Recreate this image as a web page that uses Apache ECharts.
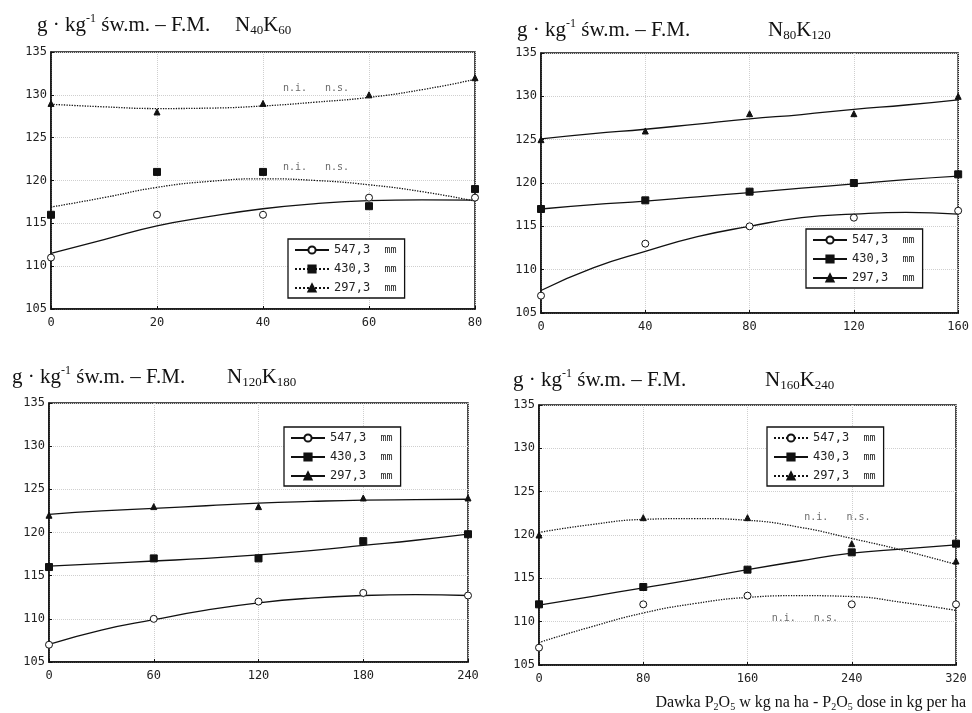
<!DOCTYPE html>
<html><head><meta charset="utf-8">
<script src="https://cdn.jsdelivr.net/npm/echarts@6/dist/echarts.min.js"></script>
<style>html,body{margin:0;padding:0;background:#fff}#c{width:972px;height:713px}</style>
</head><body><div id="c"></div>
<script>
// ---------- data ----------
const panelNames = [['40','60'],['80','120'],['120','180'],['160','240']];
const xTicks = [[0,20,40,60,80],[0,40,80,120,160],[0,60,120,180,240],[0,80,160,240,320]];
const rainLabels = ['547,3','430,3','297,3'];
const unitLabel = 'mm';
// observed means
const obs547 = [[111,116,116,118,118],[107,113,115,116,116.8],[107,110,112,113,112.7],[107,112,113,112,112]];
const obs430 = [[116,121,121,117,119],[117,118,119,120,121],[116,117,117,119,119.8],[112,114,116,118,119]];
const obs297 = [[129,128,129,130,132],[125,126,128,128,130],[122,123,123,124,124],[120,122,122,119,117]];
// fitted regression curves, read at half-steps of each x axis
const fitX = [[0,10,20,30,40,50,60,70,80],[0,20,40,60,80,100,120,140,160],[0,30,60,90,120,150,180,210,240],[0,40,80,120,160,200,240,280,320]];
const fit547 = [[111.5,113.1,114.7,115.8,116.7,117.3,117.65,117.75,117.7],
                [107.6,110.2,112.1,113.8,115.0,116.0,116.4,116.6,116.4],
                [107.05,108.7,109.9,111.0,111.85,112.4,112.7,112.8,112.7],
                [107.6,109.4,111.0,112.1,112.8,113.0,112.9,112.2,111.3]];
const fit430 = [[116.9,118.0,119.2,119.9,120.2,120.0,119.5,118.7,117.6],
                [117.0,117.5,117.9,118.4,118.9,119.4,119.9,120.4,120.8],
                [116.1,116.4,116.7,117.0,117.4,117.9,118.5,119.1,119.8],
                [111.9,112.9,113.9,114.9,116.0,117.0,117.9,118.4,118.85]];
const fit297 = [[128.9,128.6,128.4,128.45,128.7,129.15,129.7,130.6,131.8],
                [125.1,125.7,126.2,126.8,127.4,127.9,128.5,129.0,129.6],
                [122.1,122.5,122.8,123.1,123.4,123.6,123.75,123.8,123.85],
                [120.3,121.2,121.8,121.9,121.7,120.9,119.6,118.2,116.6]];
// line type of each curve (per panel: 547, 430, 297)
const lineTypes = [['solid','dotted','dotted'],['solid','solid','solid'],['solid','solid','solid'],['dotted','solid','dotted']];
// "n.i. n.s." annotations in data units [panel, x, y]
const notes = [[0,50,130.7],[0,50,121.5],[3,229,122.0],[3,204,110.4]];
const noteText = 'n.i.   n.s.';
const yMin = 105, yMax = 135, yStep = 5;

// ---------- layout ----------
const grids = [
  {left:51, top:52, width:424, height:257},
  {left:541, top:53, width:419, height:260},
  {left:49, top:403, width:419, height:259},
  {left:539, top:405, width:417, height:260}
];
const titlePos = [
  {u:[37,13], n:[235,13]},
  {u:[517,18], n:[768,18]},
  {u:[12,365], n:[227,365]},
  {u:[513,368], n:[765,368]}
];
const legendPos = [[288,239],[806,229],[284,427],[767,427]];

const mono = 'DejaVu Sans Mono';
const serif = 'Liberation Serif';
const obsAll = [obs547, obs430, obs297];
const fitAll = [fit547, fit430, fit297];
const symbols = ['circle','rect','triangle'];
const symSizes = [7,7,6];
const symFill = ['#fff','#111','#111'];

const titles = [], legends = [], xAxes = [], yAxes = [], series = [];
const richT = {
  sup:{fontSize:12, fontFamily:serif, color:'#111', verticalAlign:'top', lineHeight:24},
  sub:{fontSize:13, fontFamily:serif, color:'#111', verticalAlign:'bottom', lineHeight:24, padding:[7,0,0,0]}
};
for (let p=0;p<4;p++){
  titles.push({left:titlePos[p].u[0], top:titlePos[p].u[1], padding:0,
    text:'g · kg{sup|-1} św.m. – F.M.',
    textStyle:{fontFamily:serif, fontSize:21, fontWeight:'normal', color:'#111', lineHeight:24, rich:richT}});
  titles.push({left:titlePos[p].n[0], top:titlePos[p].n[1], padding:0,
    text:'N{sub|'+panelNames[p][0]+'}K{sub|'+panelNames[p][1]+'}',
    textStyle:{fontFamily:serif, fontSize:21, fontWeight:'normal', color:'#111', lineHeight:24, rich:richT}});
  const xs = xTicks[p];
  xAxes.push({type:'value', gridIndex:p, min:xs[0], max:xs[xs.length-1], interval:xs[1]-xs[0],
    axisLine:{show:true, onZero:false, lineStyle:{color:'#111', width:1.5}},
    axisTick:{show:true, inside:true, length:3, lineStyle:{color:'#111'}},
    axisLabel:{fontFamily:mono, fontSize:12, color:'#222', margin:8},
    splitLine:{show:true, lineStyle:{color:'#cfcfcf', type:'dotted', width:1}}});
  yAxes.push({type:'value', gridIndex:p, min:yMin, max:yMax, interval:yStep,
    axisLine:{show:true, onZero:false, lineStyle:{color:'#111', width:1.5}},
    axisTick:{show:true, inside:true, length:3, lineStyle:{color:'#111'}},
    axisLabel:{fontFamily:mono, fontSize:12, color:'#222', margin:4},
    splitLine:{show:true, lineStyle:{color:'#cfcfcf', type:'dotted', width:1}}});
  const names = [];
  for (let r=0;r<3;r++){
    const nm = rainLabels[r]+'#'+p;
    names.push(nm);
    series.push({type:'line', name:nm, xAxisIndex:p, yAxisIndex:p, smooth:true,
      symbol:symbols[r], symbolSize:symSizes[r], showSymbol:false,
      itemStyle:{color:symFill[r], borderColor:'#111', borderWidth:1},
      lineStyle:{color:'#111', width:1.3, type:lineTypes[p][r]},
      data: fitX[p].map((x,i)=>[x, fitAll[r][p][i]]), z:2, silent:true});
    series.push({type:'scatter', name:'obs'+r+'_'+p, xAxisIndex:p, yAxisIndex:p,
      symbol:symbols[r], symbolSize:symSizes[r],
      itemStyle:{color:symFill[r], borderColor:'#111', borderWidth:1, opacity:1},
      data: xs.map((x,i)=>[x, obsAll[r][p][i]]), z:3, clip:true});
  }
  legends.push({left:legendPos[p][0], top:legendPos[p][1], orient:'vertical', data:names,
    backgroundColor:'#fff', borderColor:'#111', borderWidth:1.3, padding:[5,8,4,6],
    itemWidth:34, itemHeight:9, itemGap:7, selectedMode:false,
    formatter: n => n.split('#')[0]+'  {s|'+unitLabel+'}',
    textStyle:{fontFamily:mono, fontSize:12, color:'#222', rich:{s:{fontFamily:mono, fontSize:10, color:'#222'}}}});
}
// annotations
for (let p=0;p<4;p++){
  const d = notes.filter(n=>n[0]===p).map(n=>[n[1],n[2]]);
  if (!d.length) continue;
  series.push({type:'scatter', name:'notes'+p, xAxisIndex:p, yAxisIndex:p, symbolSize:0, silent:true,
    data:d, label:{show:true, position:'inside', formatter:noteText, fontFamily:mono, fontSize:10, color:'#444'}});
}
titles.push({right:6, top:694, padding:0,
  text:'Dawka P{sub|2}O{sub|5} w kg na ha - P{sub|2}O{sub|5} dose in kg per ha',
  textStyle:{fontFamily:serif, fontSize:16, fontWeight:'normal', color:'#111', lineHeight:18,
    rich:{sub:{fontSize:10, fontFamily:serif, color:'#111', verticalAlign:'bottom', lineHeight:18, padding:[4,0,0,0]}}}});

const chart = echarts.init(document.getElementById('c'), null, {renderer:'canvas'});
chart.setOption({
  animation:false, backgroundColor:'#fff',
  title:titles, legend:legends,
  grid:grids.map(g=>Object.assign({show:true, borderColor:'#111', borderWidth:1.5, backgroundColor:'transparent'}, g)),
  xAxis:xAxes, yAxis:yAxes, series:series
});
</script></body></html>
